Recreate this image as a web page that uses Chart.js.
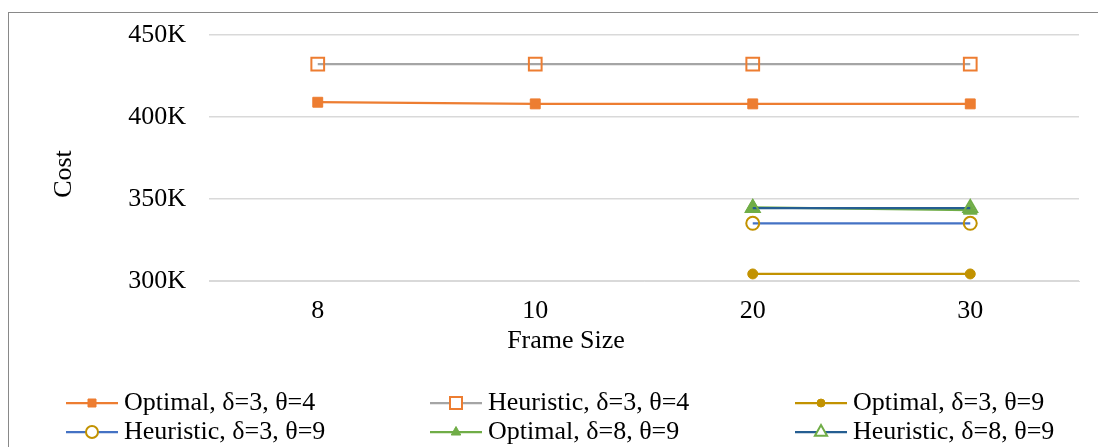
<!DOCTYPE html>
<html>
<head>
<meta charset="utf-8">
<script src="https://cdn.jsdelivr.net/npm/chart.js@4/dist/chart.umd.min.js"></script>
<style>
  html, body { margin: 0; padding: 0; background: #fff; overflow: hidden; }
  #wrap { position: relative; width: 1098px; height: 447px; }
  #frame { position: absolute; left: 8px; top: 12px; width: 1200px; height: 600px;
           border: 1px solid #898989; box-sizing: border-box; pointer-events: none; }
  canvas { position: absolute; left: 0; top: 0; }
</style>
</head>
<body>
<div id="wrap">
  <canvas id="c" width="1098" height="447"></canvas>
  <div id="frame"></div>
</div>
<script>
// Frame sizes on the x axis
const frameSizes = ['8', '10', '20', '30'];

// Cost per configuration (null = not computed for that frame size)
const optimalD3T4   = [409000, 408000, 408000, 408000];
const heuristicD3T4 = [432300, 432300, 432300, 432300];
const optimalD3T9   = [null, null, 304300, 304300];
const heuristicD3T9 = [null, null, 335200, 335200];
const optimalD8T9   = [null, null, 344900, 343200];
const heuristicD8T9 = [null, null, 344500, 344500];

const seriesNames = [
  'Optimal, δ=3, θ=4', 'Heuristic, δ=3, θ=4', 'Optimal, δ=3, θ=9',
  'Heuristic, δ=3, θ=9', 'Optimal, δ=8, θ=9', 'Heuristic, δ=8, θ=9'
];

// y-axis ticks
const costTicks = [300000, 350000, 400000, 450000];

const FONT = '"Liberation Serif", "Times New Roman", serif';
const ORANGE = '#ED7D31', GREY = '#A5A5A5', GOLD = '#C29200',
      BLUE = '#4472C4', GREEN = '#70AD47', NAVY = '#255E91';

function series(i, data, line, marker, style, radius, filled) {
  return {
    label: seriesNames[i],
    data: data,
    order: 6 - i,
    borderColor: line,
    backgroundColor: line,
    borderWidth: 2.25,
    tension: 0,
    pointStyle: style,
    pointRadius: radius,
    pointHoverRadius: radius,
    pointBorderColor: marker,
    pointBackgroundColor: filled ? marker : 'rgba(0,0,0,0)',
    pointBorderWidth: filled ? 1 : 2,
    legendMarker: { style: style, color: marker, filled: filled }
  };
}

const datasets = [
  series(0, optimalD3T4,   ORANGE, ORANGE, 'rect',     7,   true),
  series(1, heuristicD3T4, GREY,   ORANGE, 'rect',     9,   false),
  series(2, optimalD3T9,   GOLD,   GOLD,   'circle',   5,   true),
  series(3, heuristicD3T9, BLUE,   GOLD,   'circle',   6.5, false),
  series(4, optimalD8T9,   GREEN,  GREEN,  'triangle', 8,   true),
  series(5, heuristicD8T9, NAVY,   GREEN,  'triangle', 8,   false)
];

// Small marker drawn in the legend swatch
function legendMarker(ctx, m, x, y) {
  ctx.save();
  ctx.strokeStyle = m.color;
  ctx.fillStyle = m.color;
  ctx.lineWidth = m.filled ? 1 : 2;
  ctx.beginPath();
  if (m.style === 'rect') {
    const s = m.filled ? 4 : 6;
    ctx.rect(x - s, y - s, 2 * s, 2 * s);
  } else if (m.style === 'circle') {
    ctx.arc(x, y, m.filled ? 4 : 6, 0, Math.PI * 2);
  } else {
    const r = m.filled ? 5.5 : 7;
    ctx.moveTo(x, y - r);
    ctx.lineTo(x + r * 0.87, y + r * 0.55);
    ctx.lineTo(x - r * 0.87, y + r * 0.55);
    ctx.closePath();
  }
  if (m.filled) {
    ctx.fill();
  } else {
    ctx.fillStyle = '#fff';
    ctx.fill();
  }
  ctx.stroke();
  ctx.restore();
}

// Axis titles and a three-column legend below the plot
const decorations = {
  id: 'decorations',
  afterDraw(chart) {
    const ctx = chart.ctx;
    const area = chart.chartArea;
    ctx.save();
    ctx.fillStyle = '#000';
    ctx.font = '26px ' + FONT;
    ctx.textAlign = 'center';
    ctx.textBaseline = 'middle';
    ctx.fillText('Frame Size', 566, area.bottom + 60);
    ctx.save();
    ctx.translate(64, 174);
    ctx.rotate(-Math.PI / 2);
    ctx.fillText('Cost', 0, 0);
    ctx.restore();

    const cols = [66, 430, 795], rows = [403, 432];
    chart.data.datasets.forEach((ds, i) => {
      const x = cols[i % 3], y = rows[Math.floor(i / 3)];
      ctx.strokeStyle = ds.borderColor;
      ctx.lineWidth = 2.25;
      ctx.beginPath();
      ctx.moveTo(x, y);
      ctx.lineTo(x + 52, y);
      ctx.stroke();
      legendMarker(ctx, ds.legendMarker, x + 26, y);
      ctx.fillStyle = '#000';
      ctx.textAlign = 'left';
      ctx.fillText(ds.label, x + 58, y);
    });
    ctx.restore();
  }
};

new Chart(document.getElementById('c'), {
  type: 'line',
  data: { labels: frameSizes, datasets: datasets },
  plugins: [decorations],
  options: {
    responsive: false,
    animation: false,
    events: [],
    layout: { padding: { top: 35, right: 19, left: 0, bottom: 0 } },
    plugins: { legend: { display: false }, tooltip: { enabled: false } },
    scales: {
      x: {
        type: 'category',
        offset: true,
        grid: { display: false, drawTicks: false },
        border: { display: true, color: '#D9D9D9', width: 1 },
        ticks: { color: '#000', font: { family: FONT, size: 26 }, padding: 15, maxRotation: 0 },
        afterFit(scale) { scale.height = 166; scale.paddingLeft = 0; scale.paddingRight = 0; }
      },
      y: {
        min: costTicks[0],
        max: costTicks[costTicks.length - 1],
        afterBuildTicks(scale) { scale.ticks = costTicks.map(v => ({ value: v })); },
        grid: { color: '#D9D9D9', lineWidth: 1.5, drawTicks: false },
        border: { display: false },
        ticks: {
          color: '#000',
          font: { family: FONT, size: 26 },
          padding: 23,
          callback: v => (v / 1000) + 'K'
        },
        afterFit(scale) { scale.width = 209; scale.paddingTop = 0; scale.paddingBottom = 0; }
      }
    }
  }
});
</script>
</body>
</html>
